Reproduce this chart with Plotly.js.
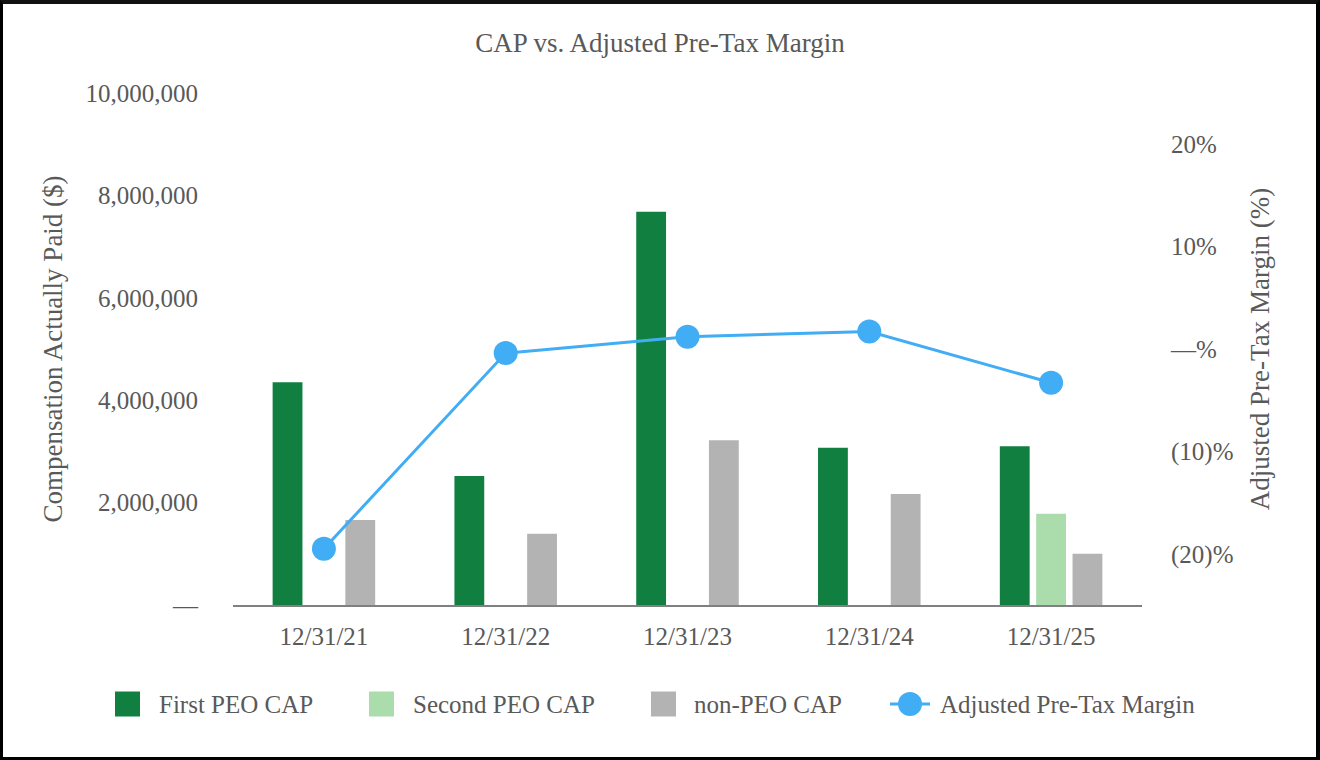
<!DOCTYPE html>
<html>
<head>
<meta charset="utf-8">
<script src="https://cdn.plot.ly/plotly-3.0.1.min.js"></script>
<style>
  html, body { margin: 0; padding: 0; background: #fff; }
  #wrap { position: relative; width: 1320px; height: 760px; }
  #chart { width: 1320px; height: 760px; }
  #frame { position: absolute; left: 0; top: 0; width: 1320px; height: 760px; box-sizing: border-box;
           border: 3px solid #000; border-top: 4px solid #111; border-right: 4px solid #000; pointer-events: none; }
</style>
</head>
<body>
<div id="wrap"><div id="chart"></div><div id="frame"></div></div>
<script>
const categories = ['12/31/21', '12/31/22', '12/31/23', '12/31/24', '12/31/25'];
const firstPeoCap = [4350000, 2520000, 7680000, 3070000, 3100000];
const secondPeoCap = [null, null, null, null, 1780000];
const nonPeoCap = [1660000, 1390000, 3220000, 2170000, 1000000];
const adjPreTaxMargin = [-19.5, -0.4, 1.2, 1.7, -3.3];

const leftTickVals = [0, 2000000, 4000000, 6000000, 8000000, 10000000];
const leftTickText = ['—', '2,000,000', '4,000,000', '6,000,000', '8,000,000', '10,000,000'];
const rightTickVals = [-20, -10, 0, 10, 20];
const rightTickText = ['(20)%', '(10)%', '—%', '10%', '20%'];

const seriesNames = ['First PEO CAP', 'Second PEO CAP', 'non-PEO CAP', 'Adjusted Pre-Tax Margin'];
const seriesColors = ['#117f40', '#abdcab', '#b3b3b3', '#41adf4'];

const FONT = 'Liberation Serif';
const TXT = '#595959';
const TICK = 25;
const ATITLE = 27;

const traces = [
  { type: 'bar', name: seriesNames[0], x: categories, y: firstPeoCap, marker: { color: seriesColors[0] } },
  { type: 'bar', name: seriesNames[1], x: categories, y: secondPeoCap, marker: { color: seriesColors[1] } },
  { type: 'bar', name: seriesNames[2], x: categories, y: nonPeoCap, marker: { color: seriesColors[2] } },
  { type: 'scatter', mode: 'lines+markers', name: seriesNames[3],
    x: categories, y: adjPreTaxMargin, yaxis: 'y2',
    line: { color: seriesColors[3], width: 3 },
    marker: { color: seriesColors[3], size: 24 } }
];

const layout = {
  width: 1320, height: 760,
  margin: { l: 233, r: 178, t: 93, b: 155 },
  paper_bgcolor: '#fff', plot_bgcolor: '#fff',
  font: { family: FONT, color: TXT, size: TICK },
  title: { text: 'CAP vs. Adjusted Pre-Tax Margin', font: { family: FONT, size: 27, color: TXT },
           xref: 'container', yref: 'container', x: 0.5, xanchor: 'center', y: 0.944, yanchor: 'middle' },
  barmode: 'group', bargap: 0.4, bargroupgap: 0.18,
  xaxis: { type: 'category', showgrid: false, zeroline: false, showline: true,
           linecolor: '#808080', linewidth: 2, ticks: '', ticklabelstandoff: 8,
           tickfont: { size: TICK, color: TXT, family: FONT } },
  yaxis: { range: [0, 10000000], tickvals: leftTickVals, ticktext: leftTickText,
           showgrid: false, zeroline: false, showline: false, ticks: '', ticklabelstandoff: 34,
           tickfont: { size: TICK, color: TXT, family: FONT },
           title: { text: 'Compensation Actually Paid ($)', font: { size: ATITLE, color: TXT, family: FONT }, standoff: 15 } },
  yaxis2: { overlaying: 'y', side: 'right', range: [-25, 25], tickvals: rightTickVals, ticktext: rightTickText,
            showgrid: false, zeroline: false, showline: false, ticks: '', ticklabelstandoff: 28,
            tickfont: { size: TICK, color: TXT, family: FONT },
            title: { text: 'Adjusted Pre-Tax Margin (%)', font: { size: ATITLE, color: TXT, family: FONT }, standoff: 17 } },
  showlegend: false
};

// Manual legend (layout only; entries from the series names/colours above)
const PL = 233, PW = 909, PB = 605, PH = 512;
const fx = px => (px - PL) / PW;
const fy = py => (PB - py) / PH;
const legCy = 704;
const legSym = [115, 369, 651];
const legTxt = [157, 411, 692, 938];
layout.shapes = [];
layout.annotations = [];
for (let i = 0; i < 3; i++) {
  layout.shapes.push({ type: 'rect', xref: 'paper', yref: 'paper',
    x0: fx(legSym[i]), x1: fx(legSym[i] + 25), y0: fy(legCy + 12.5), y1: fy(legCy - 12.5),
    fillcolor: seriesColors[i], line: { width: 0 } });
}
layout.shapes.push({ type: 'line', xref: 'paper', yref: 'paper',
  x0: fx(890), x1: fx(930), y0: fy(legCy), y1: fy(legCy),
  line: { color: seriesColors[3], width: 3 } });
layout.shapes.push({ type: 'circle', xref: 'paper', yref: 'paper',
  x0: fx(898), x1: fx(922), y0: fy(legCy + 12), y1: fy(legCy - 12),
  fillcolor: seriesColors[3], line: { width: 0 } });
for (let i = 0; i < 4; i++) {
  layout.annotations.push({ text: seriesNames[i], showarrow: false, xref: 'paper', yref: 'paper',
    x: fx(legTxt[i]), y: fy(legCy), xanchor: 'left', yanchor: 'middle',
    font: { family: FONT, size: TICK, color: TXT } });
}

Plotly.newPlot('chart', traces, layout, { staticPlot: true, displayModeBar: false });
</script>
</body>
</html>
